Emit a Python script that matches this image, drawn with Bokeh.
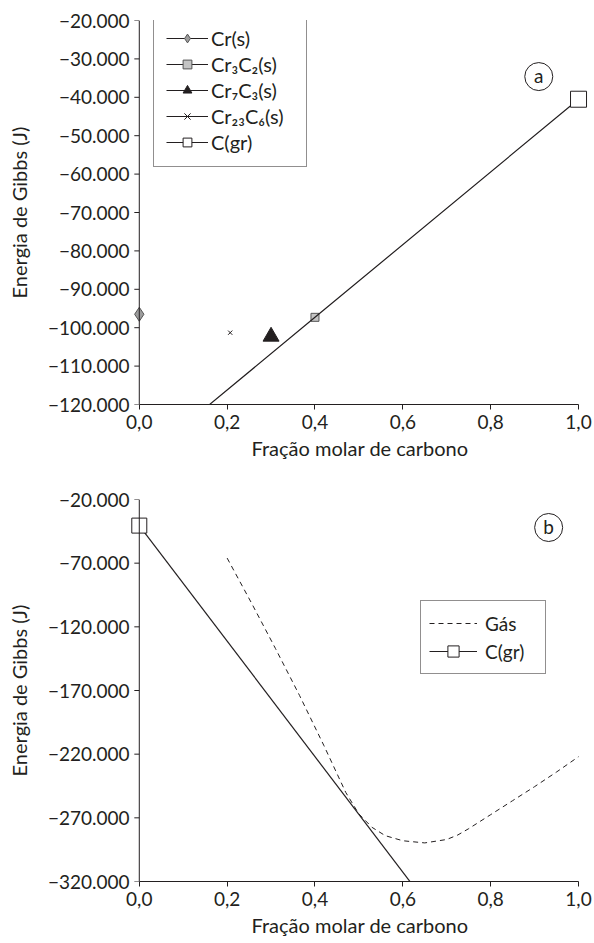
from bokeh.plotting import figure
from bokeh.models import (FixedTicker, Legend, LegendItem, Label, Range1d, LinearAxis, Span)
from bokeh.layouts import column
from bokeh.embed import file_html
from bokeh.resources import INLINE

# ---------------- data ----------------
# panel (a)
cr_x, cr_y = [0.0], [-96500]
cr3c2_x, cr3c2_y = [0.4], [-97300]
cr7c3_x, cr7c3_y = [0.3], [-102300]
cr23c6_x, cr23c6_y = [0.207], [-101300]
cgr_a_line_x = [0.14, 0.4, 1.0]
cgr_a_line_y = [-121900, -97300, -40500]
cgr_a_x, cgr_a_y = [1.0], [-40500]

# panel (b)
gas_x = [0.20, 0.255, 0.31, 0.365, 0.42, 0.47, 0.50, 0.53, 0.56, 0.60, 0.65,
         0.70, 0.725, 0.75, 0.80, 0.85, 0.90, 0.95, 1.00]
gas_y = [-66000, -101000, -137000, -174000, -213000, -250000, -267000, -277500,
         -284000, -288000, -289700, -287000, -283500, -278500, -267500, -256500,
         -245500, -234000, -222000]
cgr_b_line_x = [0.0, 0.625]
cgr_b_line_y = [-40500, -324000]
cgr_b_x, cgr_b_y = [0.0], [-40500]

x_ticks = [0.0, 0.2, 0.4, 0.6, 0.8, 1.0]
x_tick_labels = ["0,0", "0,2", "0,4", "0,6", "0,8", "1,0"]
ya_ticks = [-120000, -110000, -100000, -90000, -80000, -70000, -60000,
            -50000, -40000, -30000, -20000]
ya_tick_labels = ["−120.000", "−110.000", "−100.000", "−90.000", "−80.000",
                  "−70.000", "−60.000", "−50.000", "−40.000", "−30.000", "−20.000"]
yb_ticks = [-320000, -270000, -220000, -170000, -120000, -70000, -20000]
yb_tick_labels = ["−320.000", "−270.000", "−220.000", "−170.000", "−120.000",
                  "−70.000", "−20.000"]

x_label = "Fração molar de carbono"
y_label = "Energia de Gibbs (J)"

FONT = "Lato"
INK = "#231f20"
X_START, X_END = -0.02, 1.025


def make_fig(height, yr, yticks, ylabels, bl, br, bt, bb, px_per_unit):
    p = figure(width=594, height=height,
               x_range=Range1d(X_START, X_END), y_range=Range1d(*yr),
               output_backend="svg", toolbar_location=None,
               x_axis_location=None, y_axis_location=None,
               min_border_left=bl, min_border_right=br,
               min_border_top=bt, min_border_bottom=bb)
    p.grid.visible = False
    p.outline_line_color = None
    p.background_fill_color = "white"
    p.border_fill_color = "white"

    xa = LinearAxis(bounds=(0, 1))
    xa.ticker = FixedTicker(ticks=x_ticks)
    xa.major_label_overrides = dict(zip(x_ticks, x_tick_labels))
    xa.axis_label = x_label
    ya = LinearAxis()
    ya.ticker = FixedTicker(ticks=yticks)
    ya.major_label_overrides = dict(zip(yticks, ylabels))
    ya.axis_label = y_label
    for ax in (xa, ya):
        ax.axis_line_color = INK
        ax.major_tick_line_color = INK
        ax.minor_tick_line_color = None
        ax.major_tick_out = 5
        ax.major_tick_in = 0
        ax.major_label_text_font = FONT
        ax.major_label_text_font_size = "19px"
        ax.major_label_text_color = INK
        ax.axis_label_text_font = FONT
        ax.axis_label_text_font_size = "20px"
        ax.axis_label_text_font_style = "normal"
        ax.axis_label_text_color = INK
        ax.major_label_standoff = 5
    xa.axis_label_standoff = 4
    # y axis: labels only at the frame edge; the rule and ticks are drawn at x = 0
    ya.axis_line_color = None
    ya.major_tick_line_color = None
    ya.major_tick_out = 0
    ya.major_label_standoff = 1
    ya.axis_label_standoff = 14
    p.add_layout(xa, "below")
    p.add_layout(ya, "left")

    p.add_layout(Span(location=0, dimension="height", line_color=INK, line_width=1))
    tick_len = 5 / px_per_unit
    p.segment(x0=[0] * len(yticks), y0=yticks, x1=[-tick_len] * len(yticks), y1=yticks,
              line_color=INK, line_width=1)
    return p


def style_legend(leg):
    leg.border_line_color = INK
    leg.border_line_width = 1
    leg.background_fill_color = "white"
    leg.background_fill_alpha = 1
    leg.label_text_font = FONT
    leg.label_text_color = INK
    leg.margin = 0


# ---------------- panel (a) ----------------
p1 = make_fig(470, (-120000, -20000), ya_ticks, ya_tick_labels, 130, 2, 20, 66, 442)

l_cr = p1.line(cr_x, cr_y, line_color=INK, line_width=1)
s_cr = p1.scatter(cr_x, cr_y, marker="diamond", size=14, fill_color="#9d9d9d",
                  line_color="#555555", line_width=1)
l_32 = p1.line(cr3c2_x, cr3c2_y, line_color=INK, line_width=1)
s_32 = p1.scatter(cr3c2_x, cr3c2_y, marker="square", size=8, fill_color="#c4c4c4",
                  line_color="#555555", line_width=1)
l_73 = p1.line(cr7c3_x, cr7c3_y, line_color=INK, line_width=1)
s_73 = p1.scatter(cr7c3_x, cr7c3_y, marker="triangle", size=16, fill_color=INK,
                  line_color=INK)
l_236 = p1.line(cr23c6_x, cr23c6_y, line_color=INK, line_width=1)
s_236 = p1.scatter(cr23c6_x, cr23c6_y, marker="x", size=6, line_color=INK,
                   line_width=1)
l_ga = p1.line(cgr_a_line_x, cgr_a_line_y, line_color=INK, line_width=1.2)
s_ga = p1.scatter(cgr_a_x, cgr_a_y, marker="square", size=16, fill_color="white",
                  line_color=INK, line_width=1)

leg_a = Legend(items=[
    LegendItem(label="Cr(s)", renderers=[l_cr, s_cr]),
    LegendItem(label="Cr₃C₂(s)", renderers=[l_32, s_32]),
    LegendItem(label="Cr₇C₃(s)", renderers=[l_73, s_73]),
    LegendItem(label="Cr₂₃C₆(s)", renderers=[l_236, s_236]),
    LegendItem(label="C(gr)", renderers=[l_ga, s_ga]),
], location=(23, 237))
style_legend(leg_a)
leg_a.label_text_font_size = "20px"
leg_a.glyph_width = 42
leg_a.glyph_height = 22
leg_a.label_height = 23
leg_a.spacing = 2
leg_a.padding = 12
leg_a.label_standoff = 3
leg_a.label_width = 83
p1.add_layout(leg_a)

p1.scatter([0.9095], [-34600], marker="circle", size=28, fill_color=None,
           line_color=INK, line_width=1)
p1.add_layout(Label(x=0.9095, y=-34600, text="a", text_align="center",
                    text_baseline="middle", text_font=FONT,
                    text_font_size="19px", text_color=INK, y_offset=1))

# ---------------- panel (b) ----------------
p2 = make_fig(473, (-320000, -20000), yb_ticks, yb_tick_labels, 126, 5, 29, 62, 443)

l_gas = p2.line(gas_x, gas_y, line_color=INK, line_width=1, line_dash="5 4")
l_gb = p2.line(cgr_b_line_x, cgr_b_line_y, line_color=INK, line_width=1.2)
s_gb = p2.scatter(cgr_b_x, cgr_b_y, marker="square", size=15, fill_color="white",
                  line_color=INK, line_width=1)

leg_b = Legend(items=[
    LegendItem(label="Gás", renderers=[l_gas]),
    LegendItem(label="C(gr)", renderers=[l_gb, s_gb]),
], location=(290, 207))
style_legend(leg_b)
leg_b.label_text_font_size = "19px"
leg_b.glyph_width = 48
leg_b.glyph_height = 28
leg_b.label_height = 22
leg_b.spacing = 0
leg_b.padding = 8
leg_b.label_standoff = 8
leg_b.label_width = 52
p2.add_layout(leg_b)

p2.scatter([0.932], [-42000], marker="circle", size=28, fill_color=None,
           line_color=INK, line_width=1)
p2.add_layout(Label(x=0.932, y=-42000, text="b", text_align="center",
                    text_baseline="middle", text_font=FONT,
                    text_font_size="19px", text_color=INK, y_offset=1))

layout = column(p1, p2, spacing=0)
open("out.html", "w").write(file_html(layout, INLINE))
